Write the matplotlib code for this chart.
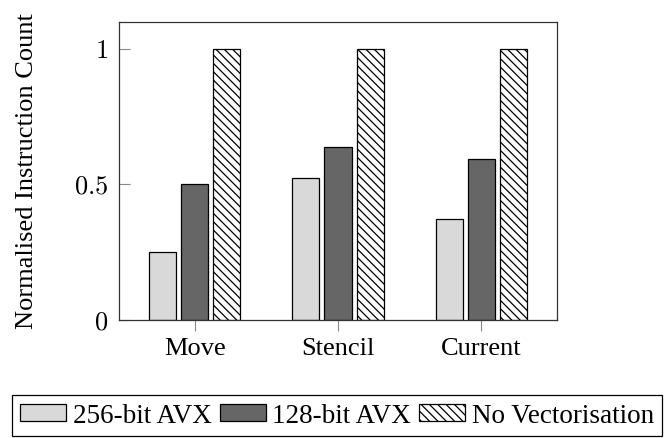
import matplotlib
matplotlib.use("Agg")
import matplotlib.pyplot as plt
import numpy as np

plt.rcParams["font.family"] = ["Liberation Serif", "DejaVu Serif"]
plt.rcParams["mathtext.fontset"] = "cm"
plt.rcParams["hatch.linewidth"] = 0.9

categories = ["Move", "Stencil", "Current"]
series_names = ["256-bit AVX", "128-bit AVX", "No Vectorisation"]
avx256 = [0.25, 0.523, 0.374]
avx128 = [0.50, 0.636, 0.593]
novec = [1.0, 1.0, 1.0]
yticks = [0, 0.5, 1]
ytick_labels = ["$0$", "$0.5$", "$1$"]

fig = plt.figure(figsize=(6.7, 4.39), dpi=100)
ax = fig.add_axes((119 / 670, 1 - 321 / 439, 438 / 670, 298.5 / 439))

x = np.arange(len(categories))
width = 0.189
offset = 0.224
styles = [
    dict(color="#d9d9d9", hatch=None),
    dict(color="#666666", hatch=None),
    dict(color="white", hatch="\\\\\\\\"),
]
for i, (vals, name, st) in enumerate(zip([avx256, avx128, novec], series_names, styles)):
    ax.bar(x + (i - 1) * offset, vals, width, facecolor=st["color"],
           edgecolor="black", linewidth=0.9, hatch=st["hatch"], label=name)

ax.set_xlim(-0.53, 2.53)
ax.set_ylim(0, 1.1)
ax.set_xticks(x)
ax.set_xticklabels(categories, fontsize=19)
ax.set_yticks(yticks)
ax.set_yticklabels(ytick_labels, fontsize=19)
ax.tick_params(axis="y", direction="in", length=8, width=0.8, color="#888888", pad=8)
ax.tick_params(axis="x", direction="out", length=8, width=0.8, color="#888888", pad=4)
for s in ax.spines.values():
    s.set_linewidth(0.9)
    s.set_color("#333333")

fig.text(27 / 670, 1 - 171 / 439, "Normalised Instruction Count", rotation=90,
         ha="center", va="center", fontsize=19)

leg = fig.legend(loc="center", bbox_to_anchor=(337 / 670, 1 - 416.5 / 439), ncol=3,
                 fontsize=19.5, handlelength=1.7, handleheight=0.55, handletextpad=0.25,
                 columnspacing=0.3, borderpad=0.3, fancybox=False, framealpha=1,
                 edgecolor="black")
leg.get_frame().set_linewidth(0.9)

fig.savefig("out.png", dpi=100)
